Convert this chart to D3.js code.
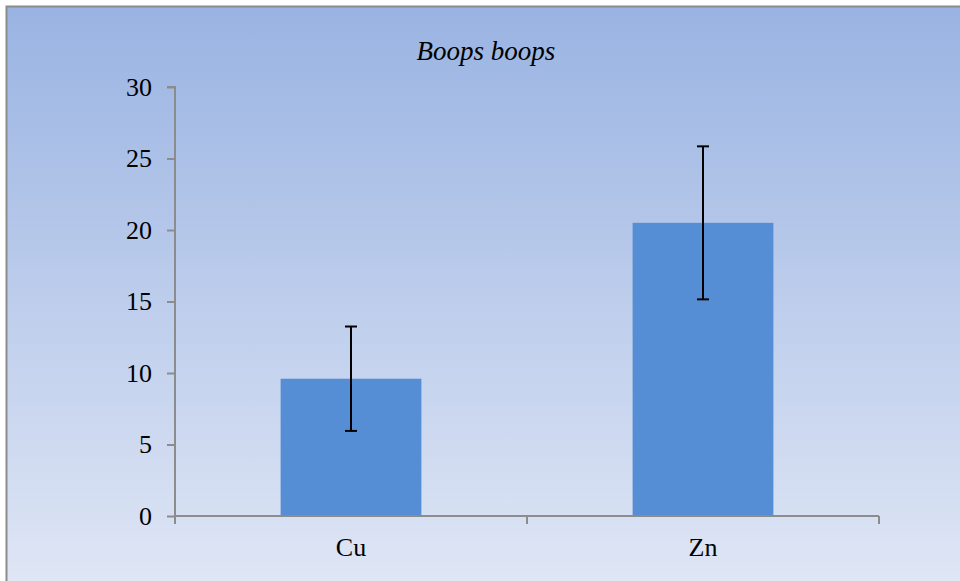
<!DOCTYPE html>
<html>
<head>
<meta charset="utf-8">
<script src="https://cdn.jsdelivr.net/npm/d3@7"></script>
<style>
  body { margin: 0; background: #fff; }
  text { font-family: "Liberation Serif", "Times New Roman", serif; }
</style>
</head>
<body>
<div id="chart"></div>
<script>
// data
const categories = ["Cu", "Zn"];
const means = [9.6, 20.5];
const errors = [3.65, 5.35];
const yTicks = [0, 5, 10, 15, 20, 25, 30];
const title = "Boops boops";

const width = 960, height = 581;
const margin = {top: 87, right: 81, bottom: 65, left: 175};

const svg = d3.select("#chart").append("svg")
    .attr("width", width)
    .attr("height", height);

// background gradient
const grad = svg.append("defs").append("linearGradient")
    .attr("id", "bg")
    .attr("x1", 0).attr("y1", 0).attr("x2", 0).attr("y2", 1);
grad.append("stop").attr("offset", "0%").attr("stop-color", "#99b3e2");
grad.append("stop").attr("offset", "100%").attr("stop-color", "#dfe6f5");

svg.append("rect")
    .attr("x", 6).attr("y", 6)
    .attr("width", width - 6).attr("height", height - 6)
    .attr("fill", "url(#bg)");
svg.append("path")
    .attr("d", "M6.5," + height + "V6.5H" + width)
    .attr("fill", "none")
    .attr("stroke", "#8c8c8c")
    .attr("stroke-width", 2);

const x = d3.scaleBand()
    .domain(categories)
    .range([margin.left, width - margin.right])
    .paddingInner(0.6)
    .paddingOuter(0.3);

const y = d3.scaleLinear()
    .domain([0, 30])
    .range([height - margin.bottom, margin.top]);

// title
svg.append("text")
    .attr("x", 486)
    .attr("y", 60)
    .attr("text-anchor", "middle")
    .style("font-style", "italic")
    .style("font-size", "27px")
    .text(title);

// bars
svg.selectAll(".bar")
    .data(categories)
    .enter().append("rect")
    .attr("class", "bar")
    .attr("x", d => x(d))
    .attr("y", (d, i) => y(means[i]))
    .attr("width", x.bandwidth())
    .attr("height", (d, i) => y(0) - y(means[i]))
    .attr("fill", "#558ed5");

// error bars
const eb = svg.selectAll(".err")
    .data(categories)
    .enter().append("g")
    .attr("class", "err")
    .attr("stroke", "#000")
    .attr("stroke-width", 2);
eb.append("line")
    .attr("x1", d => x(d) + x.bandwidth() / 2)
    .attr("x2", d => x(d) + x.bandwidth() / 2)
    .attr("y1", (d, i) => y(means[i] + errors[i]))
    .attr("y2", (d, i) => y(means[i] - errors[i]));
eb.selectAll(".cap")
    .data((d, i) => [[d, means[i] + errors[i]], [d, means[i] - errors[i]]])
    .enter().append("line")
    .attr("x1", d => x(d[0]) + x.bandwidth() / 2 - 6)
    .attr("x2", d => x(d[0]) + x.bandwidth() / 2 + 6)
    .attr("y1", d => y(d[1]))
    .attr("y2", d => y(d[1]));

// y axis
const yAxis = svg.append("g")
    .attr("transform", "translate(" + margin.left + ",0)")
    .call(d3.axisLeft(y).tickValues(yTicks).tickSize(8).tickPadding(15));
yAxis.selectAll("path, line").attr("stroke", "#8c8c8c").attr("stroke-width", 2);
yAxis.select(".domain").attr("d", "M-8," + y(30) + "H0V" + y(0));
yAxis.selectAll("text").style("font-size", "26px").attr("fill", "#000")
    .style("font-family", "'Liberation Serif', serif");

// x axis
const xAxis = svg.append("g")
    .attr("transform", "translate(0," + y(0) + ")")
    .call(d3.axisBottom(x).tickSize(0).tickPadding(22));
xAxis.select(".domain").attr("d", "M" + margin.left + ",0H" + (width - margin.right))
    .attr("stroke", "#8c8c8c").attr("stroke-width", 2);
xAxis.selectAll("text").style("font-size", "26px").attr("fill", "#000")
    .style("font-family", "'Liberation Serif', serif");
// boundary ticks between categories
const xEdges = [margin.left, x(categories[1]) - x.step() * x.paddingInner() / 2, width - margin.right];
xAxis.selectAll(".edge")
    .data(xEdges)
    .enter().append("line")
    .attr("class", "edge")
    .attr("x1", d => d).attr("x2", d => d)
    .attr("y1", 0).attr("y2", 8)
    .attr("stroke", "#8c8c8c").attr("stroke-width", 2);
</script>
</body>
</html>
